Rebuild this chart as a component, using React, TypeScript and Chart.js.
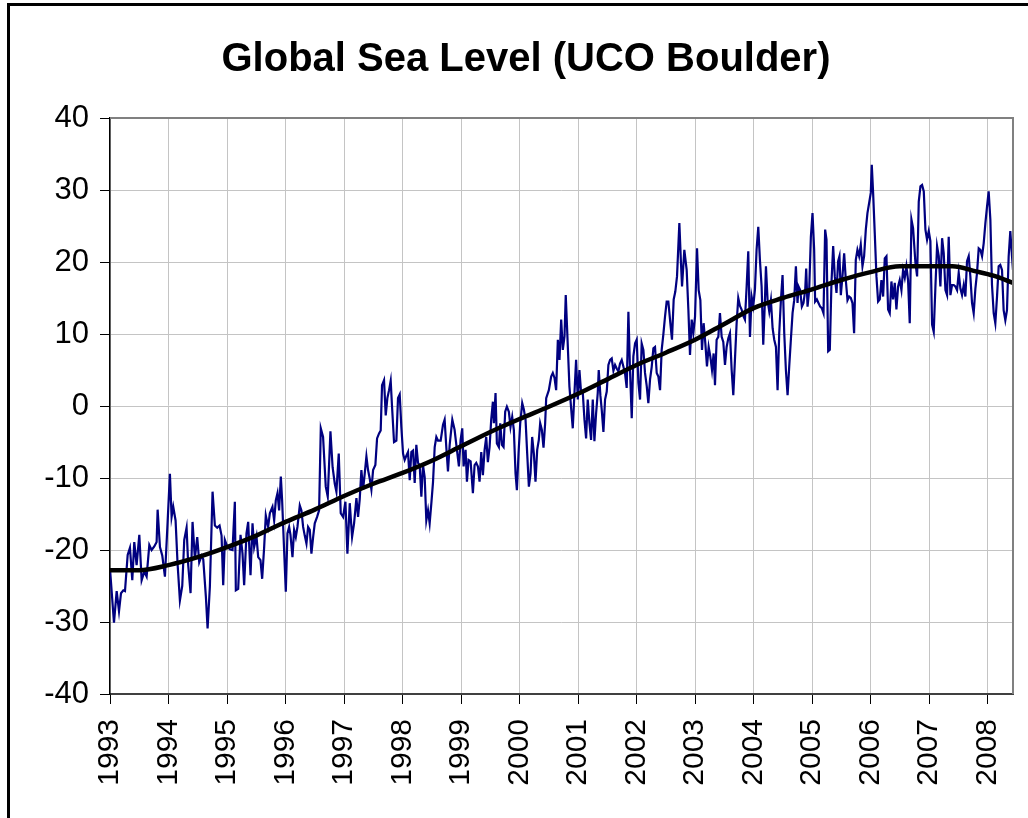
import React, { useEffect, useRef } from "react";
import { Chart, registerables } from "chart.js";

Chart.register(...registerables);

const TITLE = "Global Sea Level (UCO Boulder)";

const YEAR_TICKS = [1993, 1994, 1995, 1996, 1997, 1998, 1999, 2000, 2001, 2002, 2003, 2004, 2005, 2006, 2007, 2008];
const VALUE_TICKS = [-40, -30, -20, -10, 0, 10, 20, 30, 40];
const X_MIN = 1993;
const X_MAX = 2008.435;

const SEA_YEARS = [
  1993.000, 1993.068, 1993.114, 1993.154, 1993.188, 1993.228, 1993.256, 1993.302, 1993.341, 1993.381,
  1993.415, 1993.455, 1993.501, 1993.541, 1993.586, 1993.626, 1993.672, 1993.711, 1993.757, 1993.797,
  1993.814, 1993.854, 1993.894, 1993.939, 1993.985, 1994.024, 1994.053, 1994.081, 1994.121, 1994.155,
  1994.195, 1994.235, 1994.269, 1994.309, 1994.337, 1994.377, 1994.411, 1994.451, 1994.491, 1994.525,
  1994.565, 1994.594, 1994.639, 1994.668, 1994.707, 1994.753, 1994.793, 1994.833, 1994.873, 1994.907,
  1994.935, 1994.963, 1995.003, 1995.049, 1995.094, 1995.134, 1995.151, 1995.191, 1995.231, 1995.265,
  1995.293, 1995.333, 1995.362, 1995.402, 1995.436, 1995.464, 1995.504, 1995.533, 1995.572, 1995.601,
  1995.635, 1995.663, 1995.703, 1995.732, 1995.777, 1995.806, 1995.834, 1995.863, 1995.891, 1995.920,
  1995.942, 1995.976, 1996.005, 1996.033, 1996.062, 1996.085, 1996.119, 1996.147, 1996.176, 1996.204,
  1996.244, 1996.272, 1996.301, 1996.329, 1996.358, 1996.386, 1996.415, 1996.443, 1996.472, 1996.500,
  1996.540, 1996.574, 1996.603, 1996.642, 1996.688, 1996.722, 1996.768, 1996.805, 1996.842, 1996.870,
  1996.910, 1996.944, 1996.984, 1997.024, 1997.058, 1997.098, 1997.138, 1997.172, 1997.212, 1997.240,
  1997.268, 1997.297, 1997.326, 1997.354, 1997.383, 1997.411, 1997.440, 1997.468, 1997.497, 1997.536,
  1997.565, 1997.599, 1997.627, 1997.650, 1997.684, 1997.713, 1997.741, 1997.770, 1997.798, 1997.821,
  1997.855, 1997.895, 1997.923, 1997.952, 1997.980, 1998.009, 1998.037, 1998.066, 1998.094, 1998.123,
  1998.151, 1998.180, 1998.208, 1998.236, 1998.265, 1998.293, 1998.322, 1998.350, 1998.379, 1998.407,
  1998.436, 1998.464, 1998.493, 1998.521, 1998.550, 1998.578, 1998.606, 1998.652, 1998.692, 1998.720,
  1998.749, 1998.777, 1998.806, 1998.851, 1998.890, 1998.930, 1998.964, 1998.993, 1999.021, 1999.044,
  1999.078, 1999.101, 1999.129, 1999.164, 1999.203, 1999.232, 1999.260, 1999.289, 1999.317, 1999.346,
  1999.374, 1999.403, 1999.431, 1999.459, 1999.488, 1999.516, 1999.545, 1999.562, 1999.590, 1999.613,
  1999.647, 1999.670, 1999.699, 1999.727, 1999.755, 1999.784, 1999.818, 1999.846, 1999.875, 1999.903,
  1999.932, 1999.955, 1999.983, 2000.012, 2000.046, 2000.074, 2000.103, 2000.131, 2000.160, 2000.188,
  2000.216, 2000.245, 2000.273, 2000.302, 2000.330, 2000.353, 2000.381, 2000.410, 2000.438, 2000.456,
  2000.501, 2000.541, 2000.569, 2000.598, 2000.626, 2000.655, 2000.683, 2000.712, 2000.740, 2000.769,
  2000.790, 2000.812, 2000.853, 2000.882, 2000.910, 2000.939, 2000.967, 2000.996, 2001.024, 2001.053,
  2001.081, 2001.110, 2001.138, 2001.166, 2001.195, 2001.223, 2001.252, 2001.280, 2001.309, 2001.337,
  2001.354, 2001.383, 2001.405, 2001.434, 2001.462, 2001.491, 2001.519, 2001.548, 2001.576, 2001.605,
  2001.633, 2001.661, 2001.690, 2001.718, 2001.747, 2001.775, 2001.804, 2001.832, 2001.861, 2001.889,
  2001.918, 2001.946, 2001.975, 2002.003, 2002.032, 2002.060, 2002.088, 2002.117, 2002.145, 2002.174,
  2002.202, 2002.231, 2002.259, 2002.288, 2002.316, 2002.345, 2002.373, 2002.402, 2002.430, 2002.458,
  2002.487, 2002.515, 2002.544, 2002.578, 2002.606, 2002.635, 2002.663, 2002.692, 2002.732, 2002.760,
  2002.778, 2002.817, 2002.857, 2002.886, 2002.914, 2002.943, 2002.971, 2003.000, 2003.034, 2003.062,
  2003.091, 2003.119, 2003.147, 2003.176, 2003.204, 2003.233, 2003.261, 2003.290, 2003.318, 2003.341,
  2003.369, 2003.398, 2003.426, 2003.455, 2003.483, 2003.512, 2003.540, 2003.569, 2003.597, 2003.626,
  2003.654, 2003.682, 2003.711, 2003.739, 2003.768, 2003.796, 2003.825, 2003.853, 2003.882, 2003.910,
  2003.939, 2003.967, 2003.996, 2004.024, 2004.052, 2004.081, 2004.109, 2004.138, 2004.166, 2004.195,
  2004.212, 2004.240, 2004.269, 2004.297, 2004.326, 2004.354, 2004.383, 2004.411, 2004.439, 2004.468,
  2004.496, 2004.525, 2004.553, 2004.582, 2004.610, 2004.638, 2004.667, 2004.695, 2004.724, 2004.752,
  2004.769, 2004.797, 2004.826, 2004.854, 2004.883, 2004.900, 2004.923, 2004.951, 2004.980, 2005.008,
  2005.036, 2005.053, 2005.082, 2005.110, 2005.139, 2005.167, 2005.196, 2005.224, 2005.247, 2005.276,
  2005.304, 2005.332, 2005.361, 2005.389, 2005.418, 2005.446, 2005.469, 2005.492, 2005.520, 2005.549,
  2005.577, 2005.606, 2005.634, 2005.662, 2005.691, 2005.719, 2005.748, 2005.776, 2005.805, 2005.833,
  2005.862, 2005.890, 2005.919, 2005.947, 2005.976, 2006.004, 2006.021, 2006.044, 2006.072, 2006.101,
  2006.129, 2006.158, 2006.186, 2006.215, 2006.243, 2006.272, 2006.300, 2006.328, 2006.357, 2006.385,
  2006.414, 2006.442, 2006.471, 2006.499, 2006.528, 2006.556, 2006.585, 2006.613, 2006.641, 2006.670,
  2006.699, 2006.727, 2006.767, 2006.796, 2006.824, 2006.853, 2006.881, 2006.910, 2006.938, 2006.966,
  2006.995, 2007.023, 2007.052, 2007.080, 2007.109, 2007.137, 2007.166, 2007.194, 2007.223, 2007.251,
  2007.280, 2007.308, 2007.336, 2007.365, 2007.393, 2007.422, 2007.450, 2007.479, 2007.507, 2007.536,
  2007.564, 2007.593, 2007.621, 2007.649, 2007.678, 2007.706, 2007.735, 2007.763, 2007.792, 2007.820,
  2007.849, 2007.877, 2007.906, 2007.934, 2007.963, 2007.991, 2008.019, 2008.048, 2008.076, 2008.105,
  2008.133, 2008.162, 2008.190, 2008.218, 2008.247, 2008.275, 2008.304, 2008.332, 2008.361, 2008.389,
  2008.418, 2008.435,
];

const SEA_LEVEL_MM = [
  -22.6, -30.1, -25.7, -28.5, -26.0, -25.6, -25.7, -20.7, -19.7, -24.2,
  -18.9, -22.1, -17.9, -24.2, -23.0, -23.7, -19.3, -20.0, -19.5, -18.9,
  -14.4, -19.6, -20.8, -23.7, -16.1, -9.4, -15.4, -14.0, -15.9, -21.9,
  -27.0, -25.0, -18.6, -16.9, -22.1, -26.0, -16.1, -21.2, -18.2, -21.7,
  -20.8, -21.3, -26.5, -30.9, -25.1, -11.9, -16.6, -16.9, -16.6, -18.0,
  -24.9, -18.6, -19.5, -19.9, -20.0, -13.3, -25.6, -25.4, -17.9, -20.5,
  -24.9, -17.7, -16.1, -23.5, -16.3, -19.6, -18.1, -21.0, -21.4, -24.0,
  -19.6, -15.2, -16.8, -14.9, -14.0, -15.9, -13.1, -12.1, -14.5, -9.8,
  -13.1, -20.0, -25.8, -17.7, -16.8, -17.9, -21.0, -17.2, -18.2, -16.8,
  -13.8, -14.5, -16.8, -18.0, -19.1, -16.8, -17.2, -20.5, -18.2, -16.3,
  -15.4, -14.5, -3.1, -4.3, -11.2, -12.6, -3.5, -8.5, -10.8, -11.9,
  -6.6, -14.9, -15.4, -13.3, -20.5, -13.5, -18.2, -16.3, -12.8, -15.4,
  -13.0, -8.9, -11.6, -9.4, -7.0, -8.9, -10.1, -11.6, -8.9, -8.2,
  -4.5, -3.8, -3.4, 2.9, 3.6, -1.3, 1.1, 2.2, 3.5, -0.1,
  -5.0, -4.8, 1.1, 1.6, -2.9, -6.6, -7.5, -6.9, -6.4, -10.3,
  -6.4, -6.2, -10.7, -5.4, -7.9, -8.2, -12.6, -8.2, -9.9, -15.9,
  -14.5, -16.3, -13.5, -10.6, -5.7, -4.3, -4.8, -4.8, -2.6, -1.9,
  -5.8, -9.1, -5.4, -1.9, -3.3, -6.1, -8.4, -4.7, -3.1, -8.4,
  -6.1, -10.5, -7.5, -7.7, -12.1, -8.2, -7.9, -8.4, -10.5, -6.4,
  -9.6, -6.1, -4.3, -7.8, -5.7, -1.9, 0.6, -2.4, 1.8, -5.2,
  -5.7, -2.4, -5.4, -5.7, -0.8, -0.1, -0.8, -2.9, -1.5, -3.3,
  -9.4, -11.7, -6.6, -2.4, 0.4, -0.5, -1.9, -6.6, -11.2, -9.4,
  -4.3, -6.6, -10.5, -6.1, -4.7, -2.4, -3.3, -5.8, -2.4, 1.1,
  2.2, 4.1, 4.6, 3.9, 2.2, 9.2, 6.4, 12.0, 7.8, 9.7,
  15.4, 11.0, 2.7, -0.3, -3.1, 1.8, 6.4, 0.9, 5.0, 1.8,
  1.9, -1.9, -4.5, 0.9, -2.4, -4.7, 0.9, -4.9, -1.0, 1.8,
  5.0, 1.4, -0.5, -3.6, 0.9, 2.0, 5.7, 6.4, 6.6, 4.9,
  5.7, 5.2, 4.8, 5.9, 6.4, 5.5, 4.5, 2.5, 13.1, 4.9,
  -1.7, 6.9, 8.7, 9.2, 3.2, 0.9, 8.7, 7.8, 4.6, 2.8,
  0.4, 3.7, 5.4, 8.0, 8.2, 4.6, 4.1, 2.2, 7.8, 9.9,
  12.4, 14.5, 14.5, 11.5, 9.2, 14.8, 15.9, 18.0, 25.4, 19.8,
  16.6, 21.7, 18.9, 13.4, 7.1, 12.0, 10.1, 12.4, 21.9, 16.1,
  14.7, 7.8, 11.5, 8.7, 5.5, 8.2, 6.9, 5.0, 7.3, 2.9,
  9.2, 9.6, 12.9, 9.6, 8.9, 5.7, 8.2, 9.4, 10.1, 5.0,
  1.5, 6.4, 11.5, 15.0, 13.9, 13.4, 12.5, 12.0, 16.6, 21.5,
  9.6, 15.2, 13.9, 16.2, 21.7, 24.9, 20.3, 16.6, 8.5, 14.7,
  19.4, 14.7, 13.1, 14.7, 10.8, 9.2, 8.2, 2.2, 10.1, 14.7,
  18.2, 10.1, 5.0, 1.5, 5.5, 9.2, 12.9, 14.7, 19.4, 14.3,
  16.6, 16.1, 13.8, 14.3, 16.1, 19.1, 13.8, 16.1, 23.5, 26.8,
  21.7, 14.5, 14.8, 14.3, 13.8, 13.6, 12.9, 24.5, 23.1, 7.6,
  7.8, 17.1, 22.2, 18.0, 15.7, 20.1, 20.8, 15.4, 18.0, 21.2,
  17.5, 14.7, 15.2, 15.0, 14.3, 10.1, 20.3, 21.7, 20.8, 22.4,
  19.4, 20.8, 24.5, 26.8, 28.2, 29.6, 33.5, 29.6, 24.0, 18.0,
  14.5, 14.8, 17.5, 15.2, 20.5, 20.8, 13.4, 12.9, 17.3, 14.8,
  17.1, 13.4, 16.6, 17.5, 16.1, 18.9, 17.8, 19.4, 17.5, 11.5,
  25.9, 24.7, 19.9, 18.0, 28.4, 30.5, 30.7, 29.8, 24.5, 23.1,
  24.3, 22.9, 11.3, 10.3, 16.6, 22.2, 20.8, 16.6, 23.3, 21.2,
  16.1, 15.4, 23.5, 15.4, 16.8, 16.8, 16.6, 16.1, 18.5, 16.3,
  15.4, 16.8, 15.2, 20.1, 20.8, 18.0, 14.3, 12.9, 16.3, 18.5,
  21.9, 21.7, 20.8, 22.6, 25.4, 27.7, 29.8, 25.9, 16.8, 12.9,
  11.5, 15.2, 19.4, 19.6, 18.9, 13.3, 11.9, 13.3, 20.8, 24.3,
  20.8, 18.9,
];

const TREND_YEARS = [
  1993.0, 1993.5, 1994.0, 1994.5, 1995.0, 1995.5, 1996.0, 1996.5, 1997.0, 1997.5,
  1998.0, 1998.5, 1999.0, 1999.5, 2000.0, 2000.5, 2001.0, 2001.5, 2002.0, 2002.5,
  2003.0, 2003.5, 2004.0, 2004.5, 2005.0, 2005.5, 2006.0, 2006.5, 2007.0, 2007.4,
  2007.8, 2008.1, 2008.435,
];
const TREND_MM = [
  -22.8, -22.8, -22.1, -21.0, -19.6, -18.0, -16.1, -14.4, -12.5, -10.8,
  -9.3, -7.6, -5.6, -3.6, -1.8, -0.1, 1.7, 3.7, 5.7, 7.4,
  9.2, 11.4, 13.6, 15.0, 16.2, 17.5, 18.6, 19.4, 19.4, 19.4,
  18.7, 18.1, 17.1,
];

const FONT = "'Liberation Sans', Arial, Helvetica, sans-serif";

const plotBorder = {
  id: "plotBorder",
  afterDraw(chart: any) {
    const { ctx, chartArea } = chart;
    ctx.save();
    ctx.strokeStyle = "#808080";
    ctx.lineWidth = 2;
    ctx.beginPath();
    ctx.moveTo(chartArea.left, chartArea.top);
    ctx.lineTo(chartArea.right, chartArea.top);
    ctx.lineTo(chartArea.right, chartArea.bottom);
    ctx.stroke();
    ctx.restore();
  },
};

export default function App() {
  const canvasRef = useRef<HTMLCanvasElement | null>(null);

  useEffect(() => {
    if (!canvasRef.current) return;
    const seaData = SEA_YEARS.map((x, i) => ({ x, y: SEA_LEVEL_MM[i] }));
    const trendData = TREND_YEARS.map((x, i) => ({ x, y: TREND_MM[i] }));
    const chart = new Chart(canvasRef.current, {
      type: "line",
      data: {
        datasets: [
          {
            label: "Trend",
            data: trendData,
            borderColor: "#000000",
            borderWidth: 4.5,
            pointRadius: 0,
            cubicInterpolationMode: "monotone",
            fill: false,
          },
          {
            label: "Sea level",
            data: seaData,
            borderColor: "#000080",
            borderWidth: 2.2,
            pointRadius: 0,
            tension: 0,
            fill: false,
          },
        ],
      },
      options: {
        animation: false,
        responsive: false,
        layout: { padding: { top: 118, right: 15, left: 0, bottom: 0 } },
        plugins: {
          legend: { display: false },
          tooltip: { enabled: false },
          title: { display: false },
        },
        scales: {
          x: {
            type: "linear",
            min: X_MIN,
            max: X_MAX,
            afterBuildTicks: (scale: any) => {
              scale.ticks = YEAR_TICKS.map((v) => ({ value: v }));
            },
            afterFit: (scale: any) => {
              scale.height = 124;
              scale.paddingLeft = 0;
              scale.paddingRight = 0;
            },
            ticks: {
              autoSkip: false,
              minRotation: 90,
              maxRotation: 90,
              padding: 15,
              color: "#000",
              font: { family: FONT, size: 30 },
              callback: (v: any) => String(v),
            },
            grid: { color: "#c4c4c4", lineWidth: 1, tickColor: "#000", tickLength: 10 },
            border: { color: "#404040", width: 2 },
          },
          y: {
            type: "linear",
            min: -40,
            max: 40,
            afterBuildTicks: (scale: any) => {
              scale.ticks = VALUE_TICKS.map((v) => ({ value: v }));
            },
            afterFit: (scale: any) => {
              scale.width = 110;
            },
            ticks: {
              padding: 11,
              color: "#000",
              font: { family: FONT, size: 31 },
              callback: (v: any) => String(v),
            },
            grid: { color: "#c4c4c4", lineWidth: 1, tickColor: "#000", tickLength: 10 },
            border: { color: "#000", width: 1.5 },
          },
        },
      },
      plugins: [plotBorder],
    });
    return () => chart.destroy();
  }, []);

  return (
    <div
      style={{
        position: "absolute",
        left: 0,
        top: 0,
        width: 1028,
        height: 818,
        overflow: "hidden",
        background: "#fff",
      }}
    >
      <div
        style={{
          position: "absolute",
          left: 7,
          top: 3,
          width: 1100,
          height: 900,
          borderLeft: "3px solid #000",
          borderTop: "3px solid #000",
        }}
      />
      <canvas
        ref={canvasRef}
        width={1028}
        height={818}
        style={{ position: "absolute", left: 0, top: 0, width: 1028, height: 818 }}
      />
      <div
        style={{
          position: "absolute",
          top: 37,
          left: 526,
          transform: "translateX(-50%)",
          whiteSpace: "nowrap",
          fontFamily: FONT,
          fontWeight: "bold",
          fontSize: 40,
          lineHeight: "40px",
          color: "#000",
        }}
      >
        {TITLE}
      </div>
    </div>
  );
}
